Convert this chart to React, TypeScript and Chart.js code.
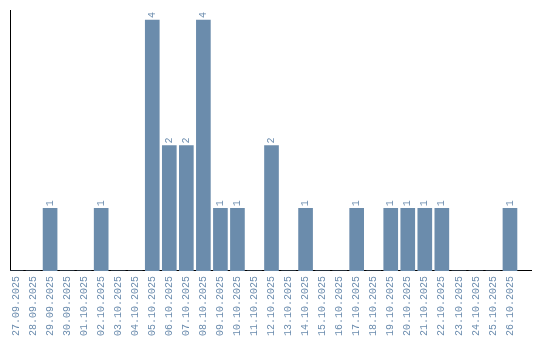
import React, { useEffect, useRef } from "react";
import { Chart, registerables } from "chart.js";

Chart.register(...registerables);

const dateLabels: string[] = [
  "27.09.2025", "28.09.2025", "29.09.2025", "30.09.2025", "01.10.2025",
  "02.10.2025", "03.10.2025", "04.10.2025", "05.10.2025", "06.10.2025",
  "07.10.2025", "08.10.2025", "09.10.2025", "10.10.2025", "11.10.2025",
  "12.10.2025", "13.10.2025", "14.10.2025", "15.10.2025", "16.10.2025",
  "17.10.2025", "18.10.2025", "19.10.2025", "20.10.2025", "21.10.2025",
  "22.10.2025", "23.10.2025", "24.10.2025", "25.10.2025", "26.10.2025",
];

const counts: number[] = [
  0, 0, 1, 0, 0,
  1, 0, 0, 4, 2,
  2, 4, 1, 1, 0,
  2, 0, 1, 0, 0,
  1, 0, 1, 1, 1,
  1, 0, 0, 0, 1,
];

const BAR_COLOR = "#6b8cac";
const TEXT_COLOR = "#6b8cae";
const FONT_FAMILY = "'Liberation Mono', monospace";

const valueLabelPlugin = {
  id: "valueLabels",
  afterDatasetsDraw(chart: any) {
    const ctx = chart.ctx;
    const meta = chart.getDatasetMeta(0);
    ctx.save();
    ctx.fillStyle = TEXT_COLOR;
    ctx.font = `10px ${FONT_FAMILY}`;
    ctx.textAlign = "left";
    ctx.textBaseline = "middle";
    meta.data.forEach((bar: any, i: number) => {
      const v = counts[i];
      if (!v) return;
      ctx.save();
      ctx.translate(bar.x, bar.y - 2);
      ctx.rotate(-Math.PI / 2);
      ctx.fillText(String(v), 0, 0);
      ctx.restore();
    });
    ctx.restore();
  },
};

export default function App() {
  const ref = useRef<HTMLCanvasElement | null>(null);

  useEffect(() => {
    if (!ref.current) return;
    const data = counts.map((c, i) => ({ x: i, y: c }));
    const chart = new Chart(ref.current, {
      type: "bar",
      data: {
        datasets: [
          {
            data,
            backgroundColor: BAR_COLOR,
            borderWidth: 0,
            barThickness: 14,
          },
        ],
      },
      options: {
        animation: false,
        responsive: false,
        maintainAspectRatio: false,
        layout: { padding: { left: 10, top: 10, right: 9, bottom: -1 } },
        plugins: {
          legend: { display: false },
          tooltip: { enabled: false },
        },
        scales: {
          x: {
            type: "linear",
            offset: false,
            min: -0.353,
            max: 30.235,
            grid: { display: false, drawTicks: false },
            border: { display: true, color: "#000", width: 1 },
            afterBuildTicks: (scale: any) => {
              scale.ticks = dateLabels.map((_, i) => ({ value: i }));
            },
            ticks: {
              autoSkip: false,
              maxRotation: 90,
              minRotation: 90,
              color: TEXT_COLOR,
              font: { family: FONT_FAMILY, size: 10 },
              padding: 5,
              callback: (v: any) => dateLabels[Number(v)] ?? "",
            },
          },
          y: {
            min: 0,
            max: 4.16,
            grid: { display: false, drawTicks: false },
            border: { display: true, color: "#000", width: 1 },
            ticks: { display: false },
          },
        },
      },
      plugins: [valueLabelPlugin],
    });
    return () => chart.destroy();
  }, []);

  return (
    <div style={{ position: "absolute", left: 0, top: 0, width: 540, height: 340 }}>
      <canvas ref={ref} width={540} height={340} style={{ width: 540, height: 340 }} />
    </div>
  );
}
